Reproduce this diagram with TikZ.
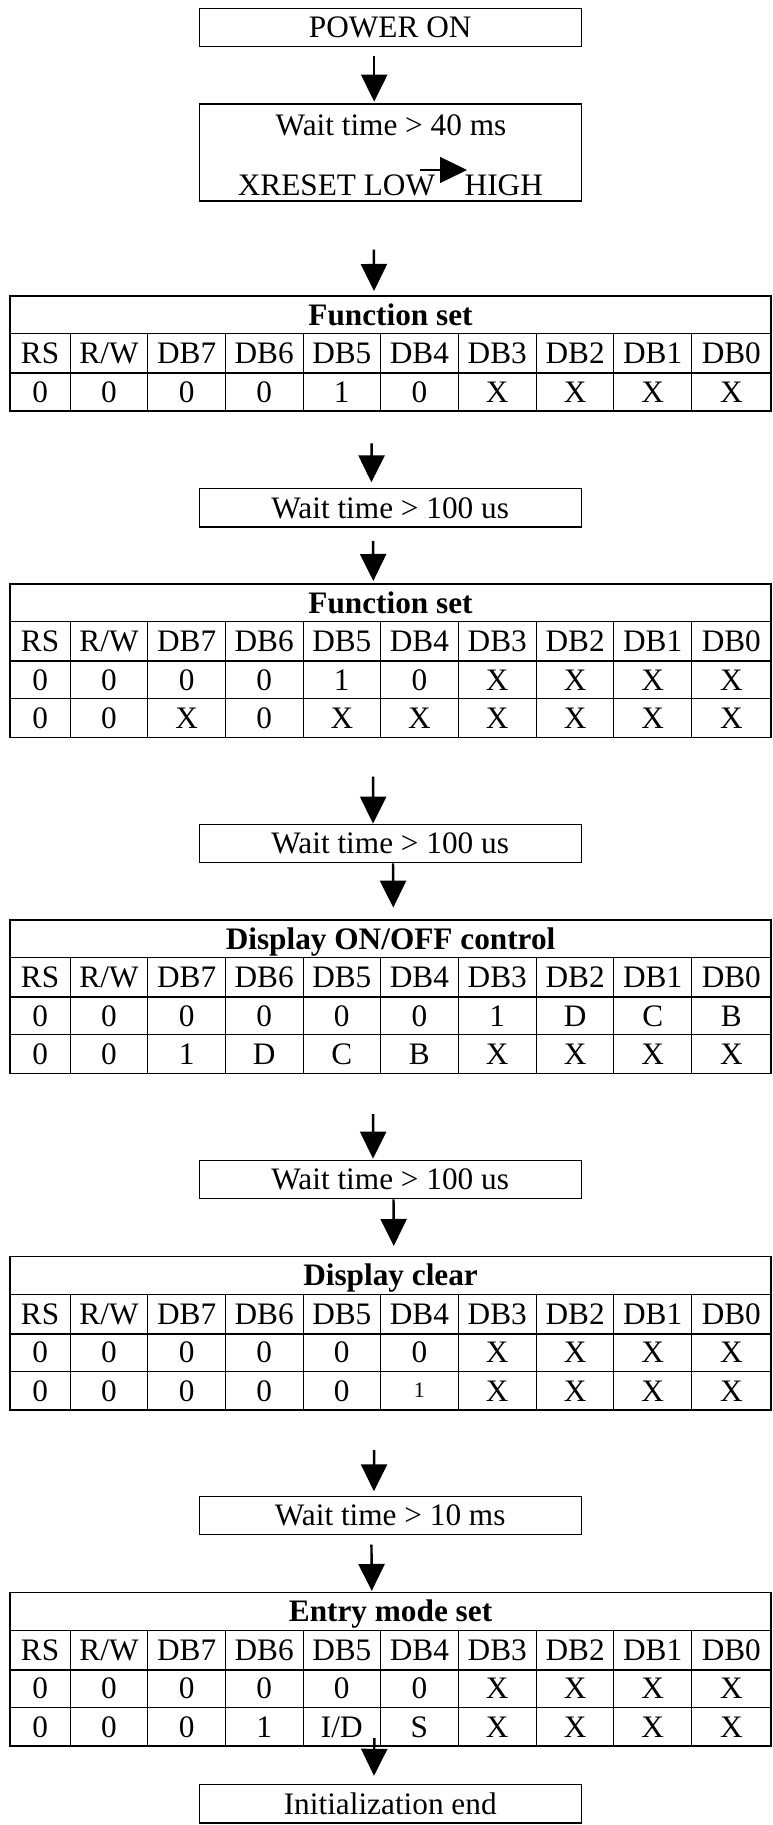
\documentclass[tikz,border=0pt]{standalone}
\usepackage{fontspec}
\setmainfont{Liberation Serif}
\usepackage{tikz}
\usetikzlibrary{arrows.meta}
\newcommand{\pxu}[0]{0.02cm}
% una fila de la tabla de registros: nombre, y, alto, valores
\newcommand{\regrow}[4]{%
  \foreach \val [count=\i] in {#4} {
    \pgfmathsetmacro{\cx}{{40.1,109,186.6,264.2,341.8,419.4,497.25,575.1,652.7,731.3}[\i-1]}
    \pgfmathsetmacro{\cw}{{60.2,77.6,77.6,77.6,77.6,77.6,78.1,77.6,77.6,79.6}[\i-1]}
    \node[cell, minimum width=\cw*\pxu, minimum height=#3*\pxu] (#1-\i) at (\cx,#2) {\val};
  }%
}

\begin{document}
\begin{tikzpicture}[x=0.02cm, y=-0.02cm]
      % Definimos algunos estilos
      \tikzstyle{txt}=[
        font=\fontsize{17.8}{21}\selectfont,
        text height=0.414cm,
        text depth=0pt,
        inner sep=0pt
      ]
      % cajas de espera
      \tikzstyle{box}=[txt, draw, line width=0.75pt, minimum width=7.64cm, minimum height=0.77cm]
      % celdas de las tablas
      \tikzstyle{cell}=[txt, draw, line width=0.55pt]
      \tikzstyle{title}=[cell, font=\fontsize{17.8}{21}\selectfont\bfseries, minimum width=15.222cm, minimum height=0.75cm]
      \tikzstyle{frame}=[draw, line width=0.85pt, minimum width=15.222cm, inner sep=0pt]
      \tikzstyle{sep}=[line width=1.3pt]
      % flechas del diagrama
      \tikzstyle{flow}=[line width=1.4pt, -{Triangle[length=0.54cm, width=0.52cm]}]

      \useasboundingbox (0,0) rectangle (772,1825);

      % POWER ON
      \node[box] (pon) at (390.2, 27.5) {POWER ON};

      % espera > 40 ms y XRESET
      \node[box, minimum height=1.94cm] (wait1) at (390.2, 152.5) {};
      \node[txt, anchor=base] (w1a) at (391, 135) {Wait time > 40 ms};
      \node[txt, anchor=base] (w1b) at (390.4, 195) {XRESET LOW\hspace{0.594cm}HIGH};
      \coordinate (xrA) at (420, 170);
      \coordinate (xrB) at (467, 170);
      \draw[line width=0.8pt, -{Triangle[length=0.54cm, width=0.52cm]}] (xrA) -- (xrB);

      % Function set (1)
      \node[title] (fs1) at (390.55, 314.75) {Function set};
      \regrow{fs1h}{353}{39}{RS,R/W,DB7,DB6,DB5,DB4,DB3,DB2,DB1,DB0}
      \regrow{fs1a}{391.7}{38.4}{0,0,0,0,1,0,X,X,X,X}
      \draw[sep] (fs1h-1.south west) -- (fs1h-10.south east);
      \node[frame, minimum height=2.298cm] (tab1) at (390.55, 353.45) {};

      \node[box] (wait2) at (390.2, 507.7) {Wait time > 100 us};

      % Function set (2)
      \node[title] (fs2) at (390.55, 602.75) {Function set};
      \regrow{fs2h}{641}{39}{RS,R/W,DB7,DB6,DB5,DB4,DB3,DB2,DB1,DB0}
      \regrow{fs2a}{679.7}{38.4}{0,0,0,0,1,0,X,X,X,X}
      \regrow{fs2b}{718.1}{38.4}{0,0,X,0,X,X,X,X,X,X}
      \draw[sep] (fs2h-1.south west) -- (fs2h-10.south east);
      \node[frame, minimum height=3.066cm] (tab2) at (390.55, 660.65) {};

      \node[box] (wait3) at (390.2, 843.5) {Wait time > 100 us};

      % Display ON/OFF control
      \node[title] (doc) at (390.55, 938.75) {Display ON/OFF control};
      \regrow{doch}{977}{39}{RS,R/W,DB7,DB6,DB5,DB4,DB3,DB2,DB1,DB0}
      \regrow{doca}{1015.7}{38.4}{0,0,0,0,0,0,1,D,C,B}
      \regrow{docb}{1054.1}{38.4}{0,0,1,D,C,B,X,X,X,X}
      \draw[sep] (doch-1.south west) -- (doch-10.south east);
      \node[frame, minimum height=3.066cm] (tab3) at (390.55, 996.65) {};

      \node[box] (wait4) at (390.2, 1179.5) {Wait time > 100 us};

      % Display clear
      \node[title] (dcl) at (390.55, 1275.45) {Display clear};
      \regrow{dclh}{1313.7}{39}{RS,R/W,DB7,DB6,DB5,DB4,DB3,DB2,DB1,DB0}
      \regrow{dcla}{1352.4}{38.4}{0,0,0,0,0,0,X,X,X,X}
      \regrow{dclb}{1390.8}{38.4}{0,0,0,0,0,{\raisebox{0.07cm}{\fontsize{12.5}{14}\selectfont 1}},X,X,X,X}
      \draw[sep] (dclh-1.south west) -- (dclh-10.south east);
      \node[frame, minimum height=3.066cm] (tab4) at (390.55, 1333.35) {};

      \node[box] (wait5) at (390.2, 1515.5) {Wait time > 10 ms};

      % Entry mode set
      \node[title] (ems) at (390.55, 1611.45) {Entry mode set};
      \regrow{emsh}{1649.7}{39}{RS,R/W,DB7,DB6,DB5,DB4,DB3,DB2,DB1,DB0}
      \regrow{emsa}{1688.4}{38.4}{0,0,0,0,0,0,X,X,X,X}
      \regrow{emsb}{1726.8}{38.4}{0,0,0,1,I/D,S,X,X,X,X}
      \draw[sep] (emsh-1.south west) -- (emsh-10.south east);
      \node[frame, minimum height=3.066cm] (tab5) at (390.55, 1669.35) {};

      \node[box] (iend) at (390.2, 1803.7) {Initialization end};

      % flechas
      \draw[flow, shorten <=0.18cm, shorten >=0.034cm] ([xshift=-0.32cm]pon.south) -- ([xshift=-0.32cm]wait1.north);
      \draw[flow, shorten <=0.96cm, shorten >=0.086cm] ([xshift=-0.33cm]wait1.south) -- ([xshift=-0.33cm]tab1.north);
      \draw[flow, shorten <=0.636cm, shorten >=0.108cm] ([xshift=-0.376cm]tab1.south) -- ([xshift=-0.376cm]wait2.north);
      \draw[flow, shorten <=0.266cm, shorten >=0.046cm] ([xshift=-0.344cm]wait2.south) -- ([xshift=-0.344cm]tab2.north);
      \draw[flow, shorten <=0.774cm] ([xshift=-0.344cm]tab2.south) -- ([xshift=-0.344cm]wait3.north);
      \draw[flow, shorten >=0.234cm] ([xshift=0.056cm]wait3.south) -- ([xshift=0.056cm]tab3.north);
      \draw[flow, shorten <=0.8cm, shorten >=0.02cm] ([xshift=-0.344cm]tab3.south) -- ([xshift=-0.344cm]wait4.north);
      \draw[flow, shorten >=0.2cm] ([xshift=0.066cm]wait4.south) -- ([xshift=0.066cm]tab4.north);
      \draw[flow, shorten <=0.786cm, shorten >=0.086cm] ([xshift=-0.326cm]tab4.south) -- ([xshift=-0.326cm]wait5.north);
      \draw[flow, shorten <=0.186cm, shorten >=0.02cm] ([xshift=-0.376cm]wait5.south) -- ([xshift=-0.376cm]tab5.north);
      \draw[flow, shorten <=-0.174cm, shorten >=0.16cm] ([xshift=-0.326cm]tab5.south) -- ([xshift=-0.326cm]iend.north);
\end{tikzpicture}
\end{document}
